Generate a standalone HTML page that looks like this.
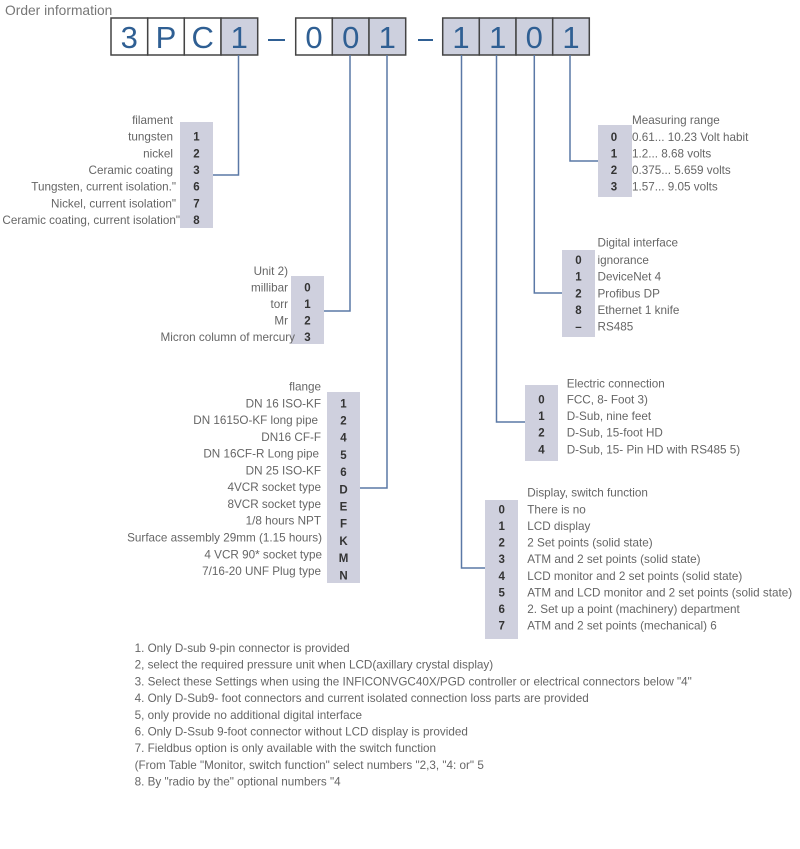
<!DOCTYPE html>
<html><head><meta charset="utf-8"><style>
html,body{margin:0;padding:0;background:#fff;}
svg{display:block;}
text{font-family:"Liberation Sans","DejaVu Sans",sans-serif;}
.l{font-size:11.7px;fill:#666;}
.n{font-size:11.5px;fill:#333;font-weight:bold;text-anchor:middle;}
.r{text-anchor:end;}
.d{font-size:31px;fill:#2f5f93;text-anchor:middle;}
.blk{fill:#cfd0de;}
.ln{stroke:#5a78a6;stroke-width:1.5;fill:none;}
</style></head><body>
<svg width="800" height="849" viewBox="0 0 800 849" xmlns="http://www.w3.org/2000/svg">
<text x="5" y="15" style="font-size:13.8px;fill:#777">Order information</text>

<!-- header boxes -->
<g stroke="#444" stroke-width="1.5">
<rect x="111" y="18" width="36.7" height="37" fill="#fff"/>
<rect x="147.7" y="18" width="36.6" height="37" fill="#fff"/>
<rect x="184.3" y="18" width="36.7" height="37" fill="#fff"/>
<rect x="221" y="18" width="36.7" height="37" fill="#cdd0de"/>
<rect x="295.7" y="18" width="36.6" height="37" fill="#fff"/>
<rect x="332.3" y="18" width="36.7" height="37" fill="#cdd0de"/>
<rect x="369" y="18" width="36.7" height="37" fill="#cdd0de"/>
<rect x="442.7" y="18" width="36.6" height="37" fill="#cdd0de"/>
<rect x="479.3" y="18" width="36.7" height="37" fill="#cdd0de"/>
<rect x="516" y="18" width="36.7" height="37" fill="#cdd0de"/>
<rect x="552.7" y="18" width="36.6" height="37" fill="#cdd0de"/>
</g>
<text class="d" x="129.3" y="48">3</text>
<text class="d" x="166" y="48">P</text>
<text class="d" x="202.7" y="48">C</text>
<text class="d" x="239.3" y="48">1</text>
<text class="d" x="314" y="48">0</text>
<text class="d" x="350.7" y="48">0</text>
<text class="d" x="387.3" y="48">1</text>
<text class="d" x="461" y="48">1</text>
<text class="d" x="497.7" y="48">1</text>
<text class="d" x="534.3" y="48">0</text>
<text class="d" x="571" y="48">1</text>
<line x1="268" y1="40" x2="285" y2="40" stroke="#2f5f93" stroke-width="2"/>
<line x1="418" y1="40" x2="433" y2="40" stroke="#2f5f93" stroke-width="2"/>

<!-- blocks -->
<rect class="blk" x="180" y="122" width="33" height="106"/>
<rect class="blk" x="291" y="276" width="33" height="68"/>
<rect class="blk" x="327" y="392" width="33" height="191"/>
<rect class="blk" x="598" y="125" width="34" height="72"/>
<rect class="blk" x="562" y="250" width="33" height="87"/>
<rect class="blk" x="525" y="385" width="33" height="76"/>
<rect class="blk" x="485" y="500" width="33" height="139"/>

<!-- connectors -->
<polyline class="ln" points="238.5,55 238.5,175 213,175"/>
<polyline class="ln" points="350,55 350,311 324,311"/>
<polyline class="ln" points="387,55 387,488 360,488"/>
<polyline class="ln" points="461.5,55 461.5,568 485,568"/>
<polyline class="ln" points="496.5,55 496.5,422 525,422"/>
<polyline class="ln" points="534.3,55 534.3,293 562,293"/>
<polyline class="ln" points="570,55 570,161 598,161"/>

<!-- filament -->
<text class="l r" x="173" y="124">filament</text>
<text class="l r" x="173" y="140.7">tungsten</text>
<text class="l r" x="173" y="157.3">nickel</text>
<text class="l r" x="173" y="174">Ceramic coating</text>
<text class="l r" x="176" y="190.7">Tungsten, current isolation."</text>
<text class="l r" x="176" y="207.3">Nickel, current isolation"</text>
<text class="l r" x="180" y="224">Ceramic coating, current isolation"</text>
<text class="n" x="196.5" y="140.7">1</text>
<text class="n" x="196.5" y="157.3">2</text>
<text class="n" x="196.5" y="174">3</text>
<text class="n" x="196.5" y="190.7">6</text>
<text class="n" x="196.5" y="207.3">7</text>
<text class="n" x="196.5" y="224">8</text>

<!-- unit -->
<text class="l r" x="288" y="275">Unit 2)</text>
<text class="l r" x="288" y="291.3">millibar</text>
<text class="l r" x="288" y="308">torr</text>
<text class="l r" x="288" y="324.7">Mr</text>
<text class="l r" x="295" y="341">Micron column of mercury</text>
<text class="n" x="307.5" y="291.3">0</text>
<text class="n" x="307.5" y="308">1</text>
<text class="n" x="307.5" y="324.7">2</text>
<text class="n" x="307.5" y="341">3</text>

<!-- flange -->
<text class="l r" x="321" y="390.7">flange</text>
<text class="l r" x="321" y="407.3">DN 16 ISO-KF</text>
<text class="l r" x="318" y="424">DN 1615O-KF long pipe</text>
<text class="l r" x="321" y="440.8">DN16 CF-F</text>
<text class="l r" x="319" y="457.6">DN 16CF-R Long pipe</text>
<text class="l r" x="321" y="474.4">DN 25 ISO-KF</text>
<text class="l r" x="321" y="491.2">4VCR socket type</text>
<text class="l r" x="321" y="508">8VCR socket type</text>
<text class="l r" x="321" y="524.7">1/8 hours NPT</text>
<text class="l r" x="322" y="541.5">Surface assembly 29mm (1.15 hours)</text>
<text class="l r" x="322" y="558.3">4 VCR 90* socket type</text>
<text class="l r" x="321" y="575">7/16-20 UNF Plug type</text>
<text class="n" x="343.5" y="407.3">1</text>
<text class="n" x="343.5" y="424.5">2</text>
<text class="n" x="343.5" y="441.7">4</text>
<text class="n" x="343.5" y="458.9">5</text>
<text class="n" x="343.5" y="476.1">6</text>
<text class="n" x="343.5" y="493.3">D</text>
<text class="n" x="343.5" y="510.5">E</text>
<text class="n" x="343.5" y="527.7">F</text>
<text class="n" x="343.5" y="544.9">K</text>
<text class="n" x="343.5" y="562.1">M</text>
<text class="n" x="343.5" y="579.3">N</text>

<!-- measuring range -->
<text class="l" x="632" y="124">Measuring range</text>
<text class="l" x="632" y="141">0.61... 10.23 Volt habit</text>
<text class="l" x="632" y="157.3">1.2... 8.68 volts</text>
<text class="l" x="632" y="174">0.375... 5.659 volts</text>
<text class="l" x="632" y="190.7">1.57... 9.05 volts</text>
<text class="n" x="614" y="141">0</text>
<text class="n" x="614" y="157.3">1</text>
<text class="n" x="614" y="174">2</text>
<text class="n" x="614" y="190.7">3</text>

<!-- digital interface -->
<text class="l" x="597.5" y="246.7">Digital interface</text>
<text class="l" x="597.5" y="264">ignorance</text>
<text class="l" x="597.5" y="280.7">DeviceNet 4</text>
<text class="l" x="597.5" y="297.3">Profibus DP</text>
<text class="l" x="597.5" y="314">Ethernet 1 knife</text>
<text class="l" x="597.5" y="330.7">RS485</text>
<text class="n" x="578.5" y="264">0</text>
<text class="n" x="578.5" y="280.7">1</text>
<text class="n" x="578.5" y="297.3">2</text>
<text class="n" x="578.5" y="314">8</text>
<text class="n" x="578.5" y="330.7">–</text>

<!-- electric connection -->
<text class="l" x="566.7" y="387.3">Electric connection</text>
<text class="l" x="566.7" y="403.3">FCC, 8- Foot 3)</text>
<text class="l" x="566.7" y="420">D-Sub, nine feet</text>
<text class="l" x="566.7" y="436.7">D-Sub, 15-foot HD</text>
<text class="l" x="566.7" y="453.3">D-Sub, 15- Pin HD with RS485 5)</text>
<text class="n" x="541.5" y="403.3">0</text>
<text class="n" x="541.5" y="420">1</text>
<text class="n" x="541.5" y="436.7">2</text>
<text class="n" x="541.5" y="453.3">4</text>

<!-- display, switch function -->
<text class="l" x="527.3" y="496.7">Display, switch function</text>
<text class="l" x="527.3" y="513.3">There is no</text>
<text class="l" x="527.3" y="530">LCD display</text>
<text class="l" x="527.3" y="546.6">2 Set points (solid state)</text>
<text class="l" x="527.3" y="563.2">ATM and 2 set points (solid state)</text>
<text class="l" x="527.3" y="579.8">LCD monitor and 2 set points (solid state)</text>
<text class="l" x="527.3" y="596.4">ATM and LCD monitor and 2 set points (solid state)</text>
<text class="l" x="527.3" y="613">2. Set up a point (machinery) department</text>
<text class="l" x="527.3" y="629.7">ATM and 2 set points (mechanical) 6</text>
<text class="n" x="501.7" y="513.3">0</text>
<text class="n" x="501.7" y="530">1</text>
<text class="n" x="501.7" y="546.6">2</text>
<text class="n" x="501.7" y="563.2">3</text>
<text class="n" x="501.7" y="579.8">4</text>
<text class="n" x="501.7" y="596.4">5</text>
<text class="n" x="501.7" y="613">6</text>
<text class="n" x="501.7" y="629.7">7</text>

<!-- notes -->
<text class="l" x="134.6" y="652">1. Only D-sub 9-pin connector is provided</text>
<text class="l" x="134.6" y="668.7">2, select the required pressure unit when LCD(axillary crystal display)</text>
<text class="l" x="134.6" y="685.4">3. Select these Settings when using the INFICONVGC40X/PGD controller or electrical connectors below "4"</text>
<text class="l" x="134.6" y="702.1">4. Only D-Sub9- foot connectors and current isolated connection loss parts are provided</text>
<text class="l" x="134.6" y="718.8">5, only provide no additional digital interface</text>
<text class="l" x="134.6" y="735.5">6. Only D-Ssub 9-foot connector without LCD display is provided</text>
<text class="l" x="134.6" y="752.2">7. Fieldbus option is only available with the switch function</text>
<text class="l" x="134.6" y="768.9">(From Table "Monitor, switch function" select numbers "2,3, "4: or" 5</text>
<text class="l" x="134.6" y="785.6">8. By "radio by the" optional numbers "4</text>
</svg>
</body></html>
